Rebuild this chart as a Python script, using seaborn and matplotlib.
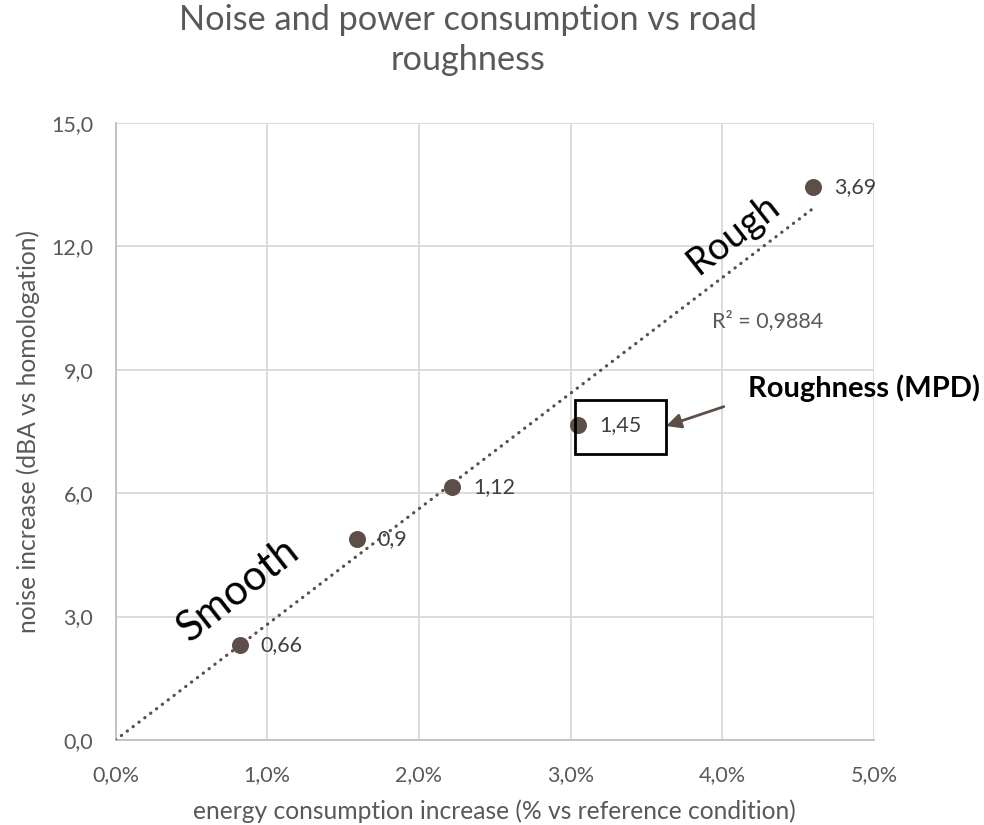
import numpy as np
import pandas as pd
import matplotlib
matplotlib.use("Agg")
import matplotlib.pyplot as plt
import seaborn as sns
from matplotlib.patches import Rectangle
from matplotlib.ticker import FuncFormatter

# --- DADOS ---
energia = [0.82, 1.59, 2.22, 3.05, 4.60]        # % vs reference condition
ruido = [2.31, 4.88, 6.14, 7.65, 13.43]         # dBA vs homologation
mpd = ["0,66", "0,9", "1,12", "1,45", "3,69"]   # roughness (MPD) labels
r2_texto = "R² = 0,9884"
# -------------

COR_PONTO = "#5E4E48"
COR_TEXTO = "#595959"

sns.set_style("white")
plt.rcParams["font.family"] = ["Lato", "DejaVu Sans"]

df = pd.DataFrame({"energia": energia, "ruido": ruido, "mpd": mpd})

fig = plt.figure(figsize=(9.84, 8.25), dpi=100)
ax = fig.add_axes([0.1174, 0.1030, 0.7708, 0.7483])

# linha de tendencia linear pela origem (como no Excel)
x = np.array(energia)
y = np.array(ruido)
inclinacao = (x * y).sum() / (x * x).sum()
tend = pd.DataFrame({"x": [0, x.max()], "y": [0, inclinacao * x.max()]})
sns.lineplot(data=tend, x="x", y="y", ax=ax, color=COR_PONTO,
             linestyle=(0, (0.1, 2.2)), linewidth=2.3, dash_capstyle="round", zorder=3)

sns.scatterplot(data=df, x="energia", y="ruido", ax=ax, color=COR_PONTO,
                s=150, edgecolor=COR_PONTO, linewidth=0, zorder=4)

for _, row in df.iterrows():
    ax.annotate(row["mpd"], (row["energia"], row["ruido"]), xytext=(15, 0),
                textcoords="offset points", va="center", ha="left",
                fontsize=15.5, color="#404040")

ax.set_xlim(0, 5)
ax.set_ylim(0, 15)
ax.set_xticks(np.arange(0, 5.01, 1))
ax.set_yticks(np.arange(0, 15.01, 3))
ax.xaxis.set_major_formatter(FuncFormatter(lambda v, p: f"{v:.1f}%".replace(".", ",")))
ax.yaxis.set_major_formatter(FuncFormatter(lambda v, p: f"{v:.1f}".replace(".", ",")))
ax.tick_params(axis="both", length=0, labelsize=15.5, labelcolor=COR_TEXTO)
ax.tick_params(axis="y", pad=16)
ax.tick_params(axis="x", pad=18)
ax.grid(True, color="#d9d9d9", linewidth=1.3)
ax.set_axisbelow(True)
for lado in ["top", "right"]:
    ax.spines[lado].set_visible(False)
for lado in ["left", "bottom"]:
    ax.spines[lado].set_color("#bfbfbf")
    ax.spines[lado].set_linewidth(1.3)

ax.set_xlabel("energy consumption increase (% vs reference condition)",
              fontsize=17.7, color=COR_TEXTO, labelpad=10)
ax.set_ylabel("noise increase (dBA vs homologation)",
              fontsize=17.7, color=COR_TEXTO, labelpad=8)

fig.text(468 / 984, 1 - 4 / 825, "Noise and power consumption vs road\nroughness",
         ha="center", va="top", fontsize=24.7, color=COR_TEXTO, linespacing=1.3)

# anotacoes
ax.text(4.07, 12.3, "Rough", rotation=38, ha="center", va="center",
        fontsize=27, color="black", rotation_mode="anchor")
ax.text(0.81, 3.65, "Smooth", rotation=38, ha="center", va="center",
        fontsize=30, color="black", rotation_mode="anchor")
ax.text(4.30, 10.2, r2_texto, ha="center", va="center", fontsize=15.5, color=COR_TEXTO)

ax.add_patch(Rectangle((3.03, 6.95), 0.60, 1.31, fill=False,
                       edgecolor="black", linewidth=2, zorder=5))
ax.annotate("", xy=(3.63, 7.63), xytext=(4.01, 8.10),
            arrowprops=dict(arrowstyle="-|>", color=COR_PONTO, lw=2,
                            mutation_scale=22, shrinkA=0, shrinkB=0))
ax.text(4.17, 8.55, "Roughness (MPD)", ha="left", va="center",
        fontsize=21, fontweight="bold", color="black")

fig.savefig("out.png", dpi=100)
